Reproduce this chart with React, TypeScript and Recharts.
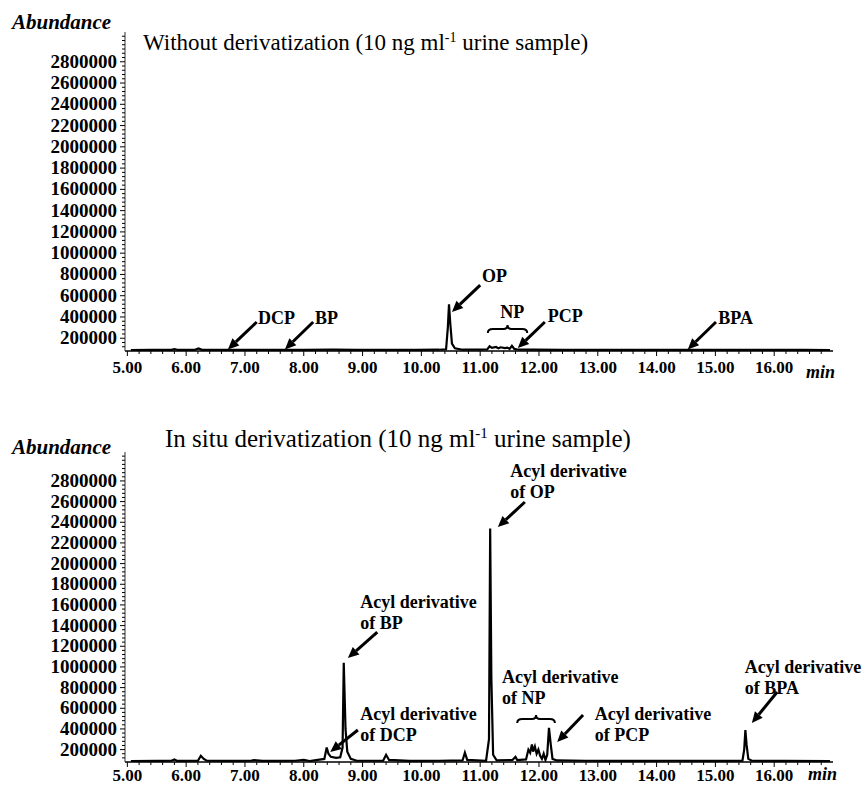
import React from 'react';
import { LineChart, Line, XAxis, YAxis, ReferenceLine, ReferenceDot } from 'recharts';

const SERIF = "'Liberation Serif', 'Times New Roman', serif";

// axes
const X_DOMAIN: [number, number] = [4.96, 17.0];
const Y_DOMAIN: [number, number] = [80000, 3080000];
const xMajorTicks = [5, 6, 7, 8, 9, 10, 11, 12, 13, 14, 15, 16];
const yMajorTicks = [
  200000, 400000, 600000, 800000, 1000000, 1200000, 1400000,
  1600000, 1800000, 2000000, 2200000, 2400000, 2600000, 2800000,
];
const xAllTicks: number[] = [];
for (let k = 50; k <= 168; k += 2) xAllTicks.push(k / 10);
const yAllTicks: number[] = [];
for (let v = 120000; v <= 3040000; v += 40000) yAllTicks.push(v);

// without derivatization
const timeWithout = [
  5.06, 5.4, 5.75, 5.8, 5.85, 6.15, 6.21, 6.27, 6.6, 7.0, 7.5, 8.0, 8.5, 8.9, 9.4, 9.9,
  10.3, 10.42, 10.45, 10.47, 10.49, 10.52, 10.57, 10.7, 10.95, 11.12, 11.16, 11.2, 11.27,
  11.31, 11.35, 11.42, 11.46, 11.5, 11.54, 11.58, 11.62, 11.7, 11.9, 12.4, 13.0, 13.6,
  14.2, 14.8, 15.4, 16.0, 16.5, 16.95,
];
const abundanceWithout = [
  88000, 90000, 90000, 97000, 90000, 91000, 104000, 91000, 90000, 90000, 91000, 90000, 92000, 90000, 91000, 90000,
  92000, 96000, 300000, 520000, 350000, 150000, 105000, 92000, 92000, 95000, 125000, 110000, 118000,
  105000, 115000, 108000, 112000, 100000, 128000, 100000, 96000, 93000, 92000, 90000, 91000, 90000,
  91000, 90000, 91000, 90000, 91000, 88000,
];

// in situ derivatization
const timeInSitu = [
  5.06, 5.5, 5.75, 5.8, 5.85, 6.2, 6.25, 6.3, 6.35, 6.8, 7.1, 7.15, 7.3, 7.85, 8.0, 8.1,
  8.35, 8.39, 8.42, 8.46, 8.55, 8.62, 8.66, 8.68, 8.71, 8.74, 8.8, 8.9, 9.35, 9.4, 9.45,
  9.8, 10.3, 10.7, 10.74, 10.78, 11.1, 11.15, 11.17, 11.19, 11.22, 11.28, 11.55, 11.6,
  11.63, 11.78, 11.82, 11.85, 11.88, 11.9, 11.93, 11.96, 11.99, 12.02, 12.05, 12.08,
  12.11, 12.14, 12.17, 12.2, 12.23, 12.3, 12.8, 13.5, 14.3, 15.0, 15.46, 15.49, 15.51,
  15.53, 15.56, 15.62, 16.2, 16.95,
];
const abundanceInSitu = [
  88000, 90000, 92000, 105000, 90000, 92000, 140000, 110000, 92000, 90000, 92000, 98000, 90000, 92000, 100000, 90000,
  110000, 220000, 160000, 130000, 120000, 125000, 220000, 1040000, 400000, 180000, 110000, 92000, 92000, 150000, 100000,
  90000, 92000, 95000, 170000, 100000, 92000, 300000, 2340000, 900000, 150000, 95000, 100000, 130000,
  98000, 105000, 200000, 170000, 250000, 180000, 230000, 160000, 200000, 140000, 110000, 160000,
  100000, 150000, 410000, 250000, 110000, 95000, 92000, 90000, 92000, 90000, 92000, 200000, 390000,
  250000, 110000, 92000, 90000, 88000,
];

// annotations: [time, abundance] in data units
const arrowsWithout = [
  { from: [7.2, 353000], to: [6.71, 95000] },
  { from: [8.16, 353000], to: [7.68, 95000] },
  { from: [11.0, 700000], to: [10.52, 447000] },
  { from: [12.1, 353000], to: [11.64, 108000] },
  { from: [15.01, 353000], to: [14.53, 95000] },
];
const labelsWithout = [
  { t: 7.22, v: 334000, lines: ['DCP'] },
  { t: 8.19, v: 334000, lines: ['BP'] },
  { t: 11.03, v: 729000, lines: ['OP'] },
  { t: 11.34, v: 390000, lines: ['NP'] },
  { t: 12.15, v: 353000, lines: ['PCP'] },
  { t: 15.05, v: 334000, lines: ['BPA'] },
];
const bracesWithout = [{ t1: 11.13, t2: 11.8, v: 249000 }];

const arrowsInSitu = [
  { from: [8.92, 390000], to: [8.45, 177000] },
  { from: [9.25, 1338000], to: [8.75, 1086000] },
  { from: [11.76, 2596000], to: [11.3, 2354000] },
  { from: [12.75, 535000], to: [12.31, 274000] },
  { from: [16.05, 757000], to: [15.62, 457000] },
];
const labelsInSitu = [
  { t: 8.96, v: 1570000, lines: ['Acyl derivative', 'of BP'] },
  { t: 8.96, v: 486000, lines: ['Acyl derivative', 'of DCP'] },
  { t: 11.51, v: 2838000, lines: ['Acyl derivative', 'of OP'] },
  { t: 11.37, v: 844000, lines: ['Acyl derivative', 'of NP'] },
  { t: 12.95, v: 486000, lines: ['Acyl derivative', 'of PCP'] },
  { t: 15.5, v: 941000, lines: ['Acyl derivative', 'of BPA'] },
];
const bracesInSitu = [{ t1: 11.63, t2: 12.27, v: 457000 }];

const XTick = (props: any) => {
  const { x, y, payload, labelOffset } = props;
  const v = payload.value;
  const major = xMajorTicks.some((m) => Math.abs(m - v) < 1e-6);
  return (
    <g>
      <line x1={x} x2={x} y1={y} y2={y + (major ? 5 : 3)} stroke="#000" strokeWidth={1} />
      {major && (
        <text x={x} y={y + labelOffset} textAnchor="middle" fontFamily={SERIF} fontWeight="bold" fontSize={17} fill="#000">
          {v.toFixed(2)}
        </text>
      )}
    </g>
  );
};

const YTick = (props: any) => {
  const { x, y, payload } = props;
  const v = payload.value;
  const major = yMajorTicks.includes(v);
  return (
    <g>
      <line x1={x - (major ? 5 : 3)} x2={x} y1={y} y2={y} stroke="#000" strokeWidth={1} />
      {major && (
        <text x={x - 8} y={y + 6} textAnchor="end" fontFamily={SERIF} fontWeight="bold" fontSize={19} fill="#000">
          {v}
        </text>
      )}
    </g>
  );
};

const Arrow = (p: any) => {
  const { x1, y1, x2, y2 } = p;
  const ang = Math.atan2(y2 - y1, x2 - x1);
  const len = 11;
  const w = 5;
  const bx = x2 - len * Math.cos(ang);
  const by = y2 - len * Math.sin(ang);
  const nx = -Math.sin(ang) * w;
  const ny = Math.cos(ang) * w;
  return (
    <g>
      <line x1={x1} y1={y1} x2={bx} y2={by} stroke="#000" strokeWidth={3} />
      <polygon points={`${x2},${y2} ${bx + nx},${by + ny} ${bx - nx},${by - ny}`} fill="#000" />
    </g>
  );
};

const Brace = (p: any) => {
  const { x1, y1, x2 } = p;
  const m = (x1 + x2) / 2;
  const h = 8;
  const d = `M${x1},${y1} Q${x1},${y1 - h / 2} ${x1 + 5},${y1 - h / 2} L${m - 4},${y1 - h / 2} Q${m},${y1 - h / 2} ${m},${y1 - h}
    Q${m},${y1 - h / 2} ${m + 4},${y1 - h / 2} L${x2 - 5},${y1 - h / 2} Q${x2},${y1 - h / 2} ${x2},${y1}`;
  return <path d={d} fill="none" stroke="#000" strokeWidth={2} />;
};

const PeakLabel = (lines: string[]) => (p: any) => (
  <text x={p.cx} y={p.cy} fontFamily={SERIF} fontWeight="bold" fontSize={18} fill="#000">
    {lines.map((s, i) => (
      <tspan key={i} x={p.cx} dy={i === 0 ? 0 : 21}>
        {s}
      </tspan>
    ))}
  </text>
);

function Chromatogram({ time, abundance, arrows, labels, braces, height, top, plotHeight, labelOffset }: any) {
  const data = time.map((t: number, i: number) => ({ t, a: abundance[i] }));
  return (
    <LineChart width={868} height={height} data={data} margin={{ top, right: 35, bottom: 0, left: 0 }}>
      <XAxis
        dataKey="t"
        type="number"
        domain={X_DOMAIN}
        ticks={xAllTicks}
        interval={0}
        tick={<XTick labelOffset={labelOffset} />}
        tickSize={0}
        tickMargin={0}
        tickLine={false}
        axisLine={{ stroke: '#000', strokeWidth: 1.5 }}
        height={height - top - plotHeight}
        allowDataOverflow
      />
      <YAxis
        type="number"
        domain={Y_DOMAIN}
        ticks={yAllTicks}
        interval={0}
        tick={<YTick />}
        tickSize={0}
        tickMargin={0}
        tickLine={false}
        axisLine={{ stroke: '#333', strokeWidth: 1 }}
        width={125}
        allowDataOverflow
      />
      <Line dataKey="a" type="linear" stroke="#000" strokeWidth={2.2} dot={false} isAnimationActive={false} />
      {arrows.map((a: any, i: number) => (
        <ReferenceLine
          key={'a' + i}
          segment={[{ x: a.from[0], y: a.from[1] }, { x: a.to[0], y: a.to[1] }]}
          shape={(p: any) => <Arrow {...p} />}
        />
      ))}
      {braces.map((b: any, i: number) => (
        <ReferenceLine
          key={'b' + i}
          segment={[{ x: b.t1, y: b.v }, { x: b.t2, y: b.v }]}
          shape={(p: any) => <Brace {...p} />}
        />
      ))}
      {labels.map((l: any, i: number) => (
        <ReferenceDot key={'l' + i} x={l.t} y={l.v} r={0} shape={PeakLabel(l.lines)} />
      ))}
    </LineChart>
  );
}

export default function App() {
  return (
    <div style={{ position: 'absolute', left: 0, top: 0, width: 868, height: 786, background: '#fff' }}>
      <div style={{ position: 'absolute', left: 0, top: 0 }}>
        <Chromatogram
          time={timeWithout}
          abundance={abundanceWithout}
          arrows={arrowsWithout}
          labels={labelsWithout}
          braces={bracesWithout}
          height={395}
          top={32}
          plotHeight={319}
          labelOffset={22}
        />
      </div>
      <div style={{ position: 'absolute', left: 0, top: 400 }}>
        <Chromatogram
          time={timeInSitu}
          abundance={abundanceInSitu}
          arrows={arrowsInSitu}
          labels={labelsInSitu}
          braces={bracesInSitu}
          height={386}
          top={52}
          plotHeight={310}
          labelOffset={19}
        />
      </div>
      <svg width={868} height={786} style={{ position: 'absolute', left: 0, top: 0, pointerEvents: 'none' }}>
        <g fontFamily={SERIF} fill="#000">
          <text x={12} y={29} fontSize={21} fontWeight="bold" fontStyle="italic">Abundance</text>
          <text x={12} y={454} fontSize={21} fontWeight="bold" fontStyle="italic">Abundance</text>
          <text x={143} y={50} fontSize={23}>
            Without derivatization (10 ng ml
            <tspan dy={-8} fontSize={14}>-1</tspan>
            <tspan dy={8}> urine sample)</tspan>
          </text>
          <text x={165} y={447} fontSize={25}>
            In situ derivatization (10 ng ml
            <tspan dy={-9} fontSize={15}>-1</tspan>
            <tspan dy={9}> urine sample)</tspan>
          </text>
          <text x={806} y={378} fontSize={18} fontWeight="bold" fontStyle="italic">min</text>
          <text x={808} y={780} fontSize={18} fontWeight="bold" fontStyle="italic">min</text>
        </g>
      </svg>
    </div>
  );
}
